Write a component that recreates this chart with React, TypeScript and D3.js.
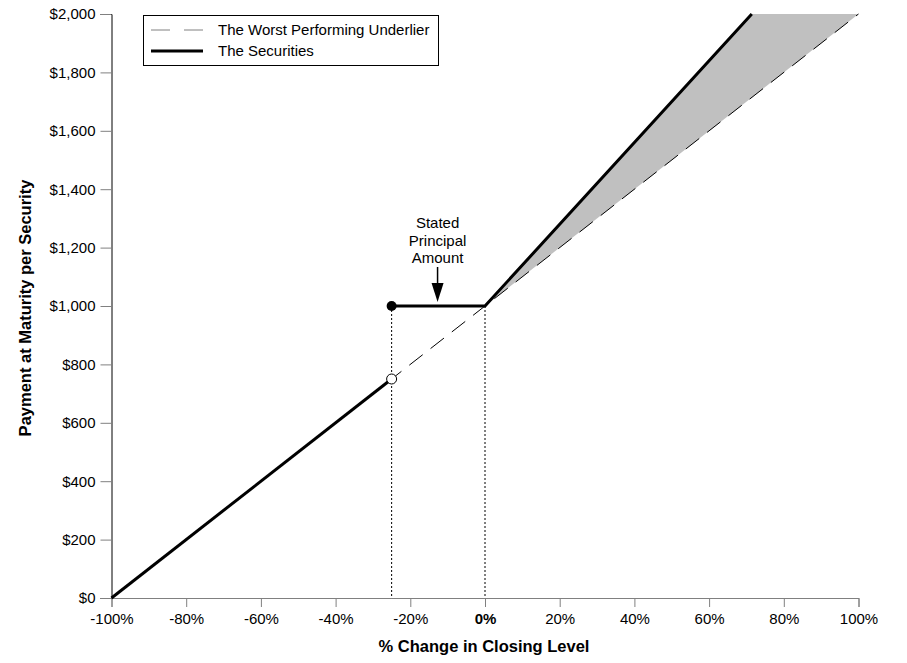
import { useEffect, useRef } from 'react';
import * as d3 from "d3";

// chart values
const xTicks = [-100, -80, -60, -40, -20, 0, 20, 40, 60, 80, 100];
const yTicks = [0, 200, 400, 600, 800, 1000, 1200, 1400, 1600, 1800, 2000];
const underlier: [number, number][] = [[-100, 0], [100, 2000]];
const securitiesLow: [number, number][] = [[-100, 0], [-25, 750]];
const securitiesHigh: [number, number][] = [[-25, 1000], [0, 1000], [71.43, 2000]];
const upsideShade: [number, number][] = [[0, 1000], [71.43, 2000], [100, 2000]];
const barrier = -25;
const principal = 1000;
const barrierLow = 750;

const FONT = "Arial, 'Liberation Sans', sans-serif";

export default function App() {
  const chartRef = useRef<SVGSVGElement>(null);

  useEffect(() => {
    if (!chartRef.current) return;
    d3.select(chartRef.current).selectAll("*").remove();

    const width = 907;
    const height = 663;

    const x = d3.scaleLinear().domain([-100, 100]).range([111.5, 858.5]);
    const y = d3.scaleLinear().domain([0, 2000]).range([598, 14]);

    const svg = d3.select(chartRef.current)
      .attr("viewBox", [0, 0, width, height])
      .attr("width", width)
      .attr("height", height)
      .style("font-family", FONT);

    const line = d3.line<[number, number]>().x(d => x(d[0])).y(d => y(d[1]));

    // shaded upside
    svg.append("path")
      .attr("d", line(upsideShade) + "Z")
      .attr("fill", "#c0c0c0");

    // dotted guides
    [barrier, 0].forEach(v => {
      svg.append("line")
        .attr("x1", x(v)).attr("x2", x(v))
        .attr("y1", y(principal)).attr("y2", y(0))
        .attr("stroke", "#000")
        .attr("stroke-width", 1)
        .attr("stroke-dasharray", "2,2");
    });

    // underlier
    svg.append("path")
      .attr("d", line(underlier))
      .attr("fill", "none")
      .attr("stroke", "#000")
      .attr("stroke-width", 1)
      .attr("stroke-dasharray", "17,10");

    // y axis
    svg.append("g")
      .attr("transform", `translate(${x(-100)},0)`)
      .call(d3.axisLeft(y).tickValues(yTicks).tickSize(11).tickPadding(5)
        .tickFormat(d => "$" + d3.format(",")(d as number)))
      .call(g => g.select(".domain").attr("stroke", "#000"))
      .call(g => g.selectAll(".tick line").attr("stroke", "#808080"))
      .call(g => g.selectAll("text").attr("font-size", 15).attr("font-family", FONT).attr("fill", "#000"));

    // x axis
    svg.append("g")
      .attr("transform", `translate(0,${y(0)})`)
      .call(d3.axisBottom(x).tickValues(xTicks).tickSize(9).tickPadding(6)
        .tickFormat(d => d + "%"))
      .call(g => g.select(".domain").attr("stroke", "#808080"))
      .call(g => g.selectAll(".tick line").attr("stroke", "#808080"))
      .call(g => g.selectAll("text").attr("font-size", 15).attr("font-family", FONT).attr("fill", "#000")
        .attr("font-weight", d => (d === 0 ? "bold" : "normal")));

    // securities
    [securitiesLow, securitiesHigh].forEach(seg => {
      svg.append("path")
        .attr("d", line(seg))
        .attr("fill", "none")
        .attr("stroke", "#000")
        .attr("stroke-width", 3)
        .attr("stroke-linejoin", "miter");
    });

    svg.append("circle")
      .attr("cx", x(barrier)).attr("cy", y(principal)).attr("r", 5)
      .attr("fill", "#000");
    svg.append("circle")
      .attr("cx", x(barrier)).attr("cy", y(barrierLow)).attr("r", 5)
      .attr("fill", "#fff").attr("stroke", "#000").attr("stroke-width", 1);

    // annotation
    const ax = x(-12.7);
    const note = svg.append("text")
      .attr("text-anchor", "middle")
      .attr("font-size", 15)
      .attr("fill", "#000");
    ["Stated", "Principal", "Amount"].forEach((t, i) => {
      note.append("tspan").attr("x", ax).attr("y", 228 + i * 17.5).text(t);
    });
    svg.append("line")
      .attr("x1", ax).attr("x2", ax)
      .attr("y1", 267).attr("y2", 285)
      .attr("stroke", "#000").attr("stroke-width", 1.5);
    svg.append("path")
      .attr("d", `M${ax - 6},283 L${ax + 6},283 L${ax},${y(principal) - 4} Z`)
      .attr("fill", "#000");

    // legend
    const lg = svg.append("g");
    lg.append("rect")
      .attr("x", 143.5).attr("y", 15.5).attr("width", 295).attr("height", 50)
      .attr("fill", "#fff").attr("stroke", "#000").attr("stroke-width", 1);
    lg.append("line")
      .attr("x1", 151).attr("x2", 203).attr("y1", 30).attr("y2", 30)
      .attr("stroke", "#808080").attr("stroke-width", 1).attr("stroke-dasharray", "19,14");
    lg.append("line")
      .attr("x1", 151).attr("x2", 203).attr("y1", 51).attr("y2", 51)
      .attr("stroke", "#000").attr("stroke-width", 3);
    lg.append("text").attr("x", 218).attr("y", 35).attr("font-size", 15).text("The Worst Performing Underlier");
    lg.append("text").attr("x", 218).attr("y", 56).attr("font-size", 15).text("The Securities");

    // axis titles
    svg.append("text")
      .attr("text-anchor", "middle")
      .attr("x", 484).attr("y", 652)
      .attr("font-size", 16.5).attr("font-weight", "bold")
      .text("% Change in Closing Level");
    svg.append("text")
      .attr("text-anchor", "middle")
      .attr("transform", "rotate(-90)")
      .attr("x", -308).attr("y", 31)
      .attr("font-size", 16.5).attr("font-weight", "bold")
      .text("Payment at Maturity per Security");
  }, []);

  return (
    <div style={{ position: "absolute", left: 0, top: 0, background: "#fff" }}>
      <svg ref={chartRef} style={{ display: "block" }}></svg>
    </div>
  );
}
